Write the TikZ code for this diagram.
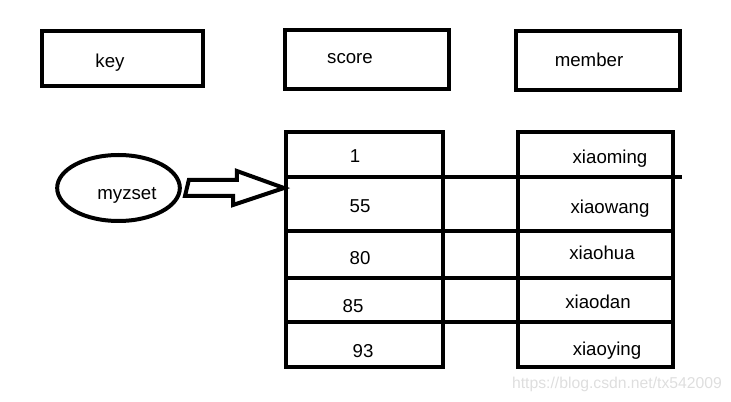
\documentclass[tikz,border=0pt]{standalone}
\usepackage{fontspec}
\setmainfont{Liberation Sans}
\usetikzlibrary{shapes.geometric,calc}

\tikzset{
  headbox/.style={draw, line width=3.5pt, rectangle, inner sep=0pt},
  tablebox/.style={draw, line width=3pt, rectangle, inner sep=0pt},
  rowline/.style={line width=3pt},
  txt/.style={anchor=base, inner sep=0.75pt, font=\fontsize{14}{16}\selectfont}
}

\begin{document}
\begin{tikzpicture}[x=0.75pt,y=0.75pt,yscale=-1,xscale=1]
\useasboundingbox (0,0) rectangle (731,402);

%Header boxes
\node [headbox, minimum width=120.75pt, minimum height=41.25pt] (keybox) at (122.5,58.5) {};
\node [headbox, minimum width=123pt, minimum height=44.25pt] (scorebox) at (367,59.5) {};
\node [headbox, minimum width=123pt, minimum height=44.25pt] (memberbox) at (598,60.5) {};
\node [txt] (keytxt) at (110,68) {key};
\node [txt] (scoretxt) at (350,64) {score};
\node [txt] (membertxt) at (589,67) {member};

%Key ellipse
\node [draw, ellipse, line width=3pt, minimum width=92pt, minimum height=49.5pt, inner sep=0pt] (myzset) at (118.5,188) {};
\node [txt] (myzsettxt) at (127,200) {myzset};

%Tables
\node [tablebox, minimum width=117.75pt, minimum height=176.25pt] (scoretab) at (364.5,249.5) {};
\node [tablebox, minimum width=116.25pt, minimum height=176.25pt] (membertab) at (595.5,249.5) {};

%Row lines
\draw [rowline] (scoretab.west |- 0,177) -- ($(membertab.east |- 0,177)+(7,0)$) ;
\draw [rowline] (scoretab.west |- 0,231) -- (membertab.east |- 0,231) ;
\draw [rowline] (scoretab.west |- 0,278) -- (membertab.east |- 0,278) ;
\draw [rowline] (scoretab.west |- 0,322) -- (membertab.east |- 0,322) ;

%Block arrow
\coordinate (tip) at (scoretab.west |- myzset.east);
\draw [line width=3pt, line join=miter] ($(myzset.east)+(7,-8)$) -- ++(48,0) -- ++(0,-9) -- (tip) -- ++(-51,17) -- ++(0,-9) -- ++(-48,0) -- cycle ;

%Scores
\node [txt] (s1) at (355,163) {1};
\node [txt] (s55) at (360,213) {55};
\node [txt] (s80) at (360,265) {80};
\node [txt] (s85) at (353,313) {85};
\node [txt] (s93) at (363,357) {93};

%Members
\node [txt] (m1) at (610,164) {xiaoming};
\node [txt] (m2) at (610,214) {xiaowang};
\node [txt] (m3) at (602,260) {xiaohua};
\node [txt] (m4) at (598,309) {xiaodan};
\node [txt] (m5) at (607,355) {xiaoying};

%Watermark
\node [anchor=base, inner sep=0pt, font=\fontsize{11.8}{14}\selectfont, text=black!13] (mark) at (617,388) {https://blog.csdn.net/tx542009};

\end{tikzpicture}
\end{document}
